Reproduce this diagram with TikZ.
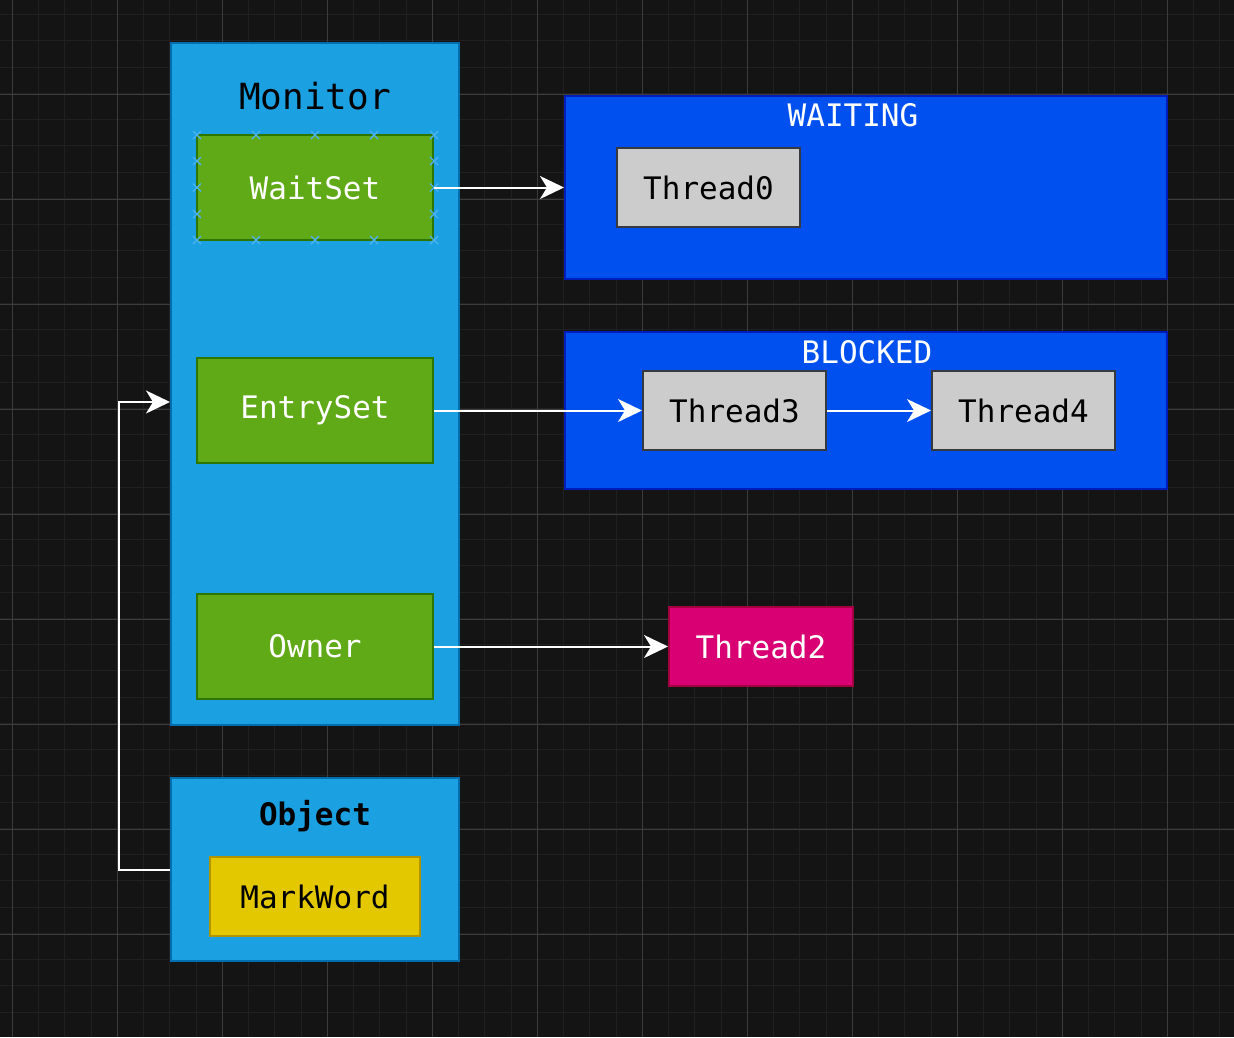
\documentclass[tikz,border=0pt]{standalone}
\usepackage{fontspec}
\setmonofont{DejaVu Sans Mono}
\usepackage{xcolor}
\usetikzlibrary{arrows.meta}

\definecolor{canvas}{HTML}{141414}
\definecolor{gridminor}{HTML}{202020}
\definecolor{gridmajor}{HTML}{3C3C3C}
\definecolor{monfill}{HTML}{1BA1E2}
\definecolor{monline}{HTML}{006EAF}
\definecolor{setfill}{HTML}{60A917}
\definecolor{setline}{HTML}{2D7600}
\definecolor{statefill}{HTML}{0050EF}
\definecolor{stateline}{HTML}{001DBC}
\definecolor{thrfill}{HTML}{CCCCCC}
\definecolor{thrline}{HTML}{36393D}
\definecolor{ownfill}{HTML}{D80073}
\definecolor{ownline}{HTML}{A50040}
\definecolor{wordfill}{HTML}{E3C800}
\definecolor{wordline}{HTML}{B09500}
\definecolor{pinblue}{HTML}{4CB3F0}

\tikzset{
  txt/.style={font=\fontsize{31}{36}\selectfont\ttfamily},
  box/.style={txt,rectangle,draw,line width=2pt,inner sep=0pt},
  setbox/.style={box,fill=setfill,draw=setline,text=white,minimum width=236pt,minimum height=105pt},
  thrbox/.style={box,fill=thrfill,draw=thrline,text=black,minimum width=183pt,minimum height=79pt},
  statebox/.style={box,fill=statefill,draw=stateline,minimum width=602pt},
  flow/.style={draw=white,line width=2pt,-{Stealth[length=24pt,width=23pt,inset=7pt]}},
  pinx/.style={draw=pinblue,line width=1.4pt}
}

\begin{document}
\begin{tikzpicture}[x=1pt,y=-1pt]
    \useasboundingbox (0,0) rectangle (1234,1037);
    \fill[canvas] (0,0) rectangle (1234,1037);
    \clip (0,0) rectangle (1234,1037);
    \foreach \i in {0,...,48} {
        \draw[gridminor,line width=1pt] ({-13.95+26.25*\i},0) -- ++(0,1037);
        \draw[gridminor,line width=1pt] (0,{-11.7+26.25*\i}) -- ++(1234,0);
    }
    \foreach \i in {0,...,11} {
        \draw[gridmajor,line width=1.4pt] ({12.3+105*\i},0) -- ++(0,1037);
        \draw[gridmajor,line width=1.4pt] (0,{-10.7+105*\i}) -- ++(1234,0);
    }

    \node[box,fill=monfill,draw=monline,minimum width=288pt,minimum height=682pt] (monitor) at (315,384) {};
    \node[txt,font=\fontsize{36}{40}\selectfont\ttfamily] (monitorlbl) at (315,96) {Monitor};
    \node[box,fill=monfill,draw=monline,minimum width=288pt,minimum height=183pt] (object) at (315,869.5) {};
    \node[txt,font=\fontsize{31}{36}\selectfont\ttfamily\bfseries] (objectlbl) at (315,816) {Object};
    \node[box,fill=wordfill,draw=wordline,minimum width=210pt,minimum height=79pt] (markword) at (315,896.5) {MarkWord};

    \begin{scope}[every node/.style={setbox}]
    \node (waitset) at (315,187.5) {WaitSet};
    \node (entryset) at (315,410.5) {EntrySet};
    \node (owner) at (315,646.5) {Owner};
    \end{scope}
    \foreach \px in {197,256,315,374,434} {
        \foreach \py in {135,240} {
            \draw[pinx] (\px-4,\py-4) -- (\px+4,\py+4) (\px-4,\py+4) -- (\px+4,\py-4);
        }
    }
    \foreach \px in {197,434} {
        \foreach \py in {161,187.5,214} {
            \draw[pinx] (\px-4,\py-4) -- (\px+4,\py+4) (\px-4,\py+4) -- (\px+4,\py-4);
        }
    }

    \node[statebox,minimum height=183pt] (waiting) at (866,187.5) {};
    \node[txt,text=white] (waitinglbl) at (853,115) {WAITING};
    \node[statebox,minimum height=157pt] (blocked) at (866,410.5) {};
    \node[txt,text=white] (blockedlbl) at (867,352) {BLOCKED};

    \begin{scope}[every node/.style={thrbox}]
    \node (thread0) at (708.5,187.5) {Thread0};
    \node (thread3) at (734.5,410.5) {Thread3};
    \node (thread4) at (1023.5,410.5) {Thread4};
    \end{scope}
    \node[box,fill=ownfill,draw=ownline,text=white,minimum width=184pt,minimum height=79pt] (thread2) at (761,646.5) {Thread2};

    \coordinate (bend) at (119,869.5);
    \coordinate (monin) at (170,402);
    \begin{scope}[every edge/.style={flow}]
    \path (waitset) edge (waiting);
    \path (entryset) edge (thread3);
    \path (thread3) edge (thread4);
    \path (owner) edge (thread2);
    \end{scope}
    \draw[flow] (object.west) -- (bend) |- (monin);
\end{tikzpicture}
\end{document}
